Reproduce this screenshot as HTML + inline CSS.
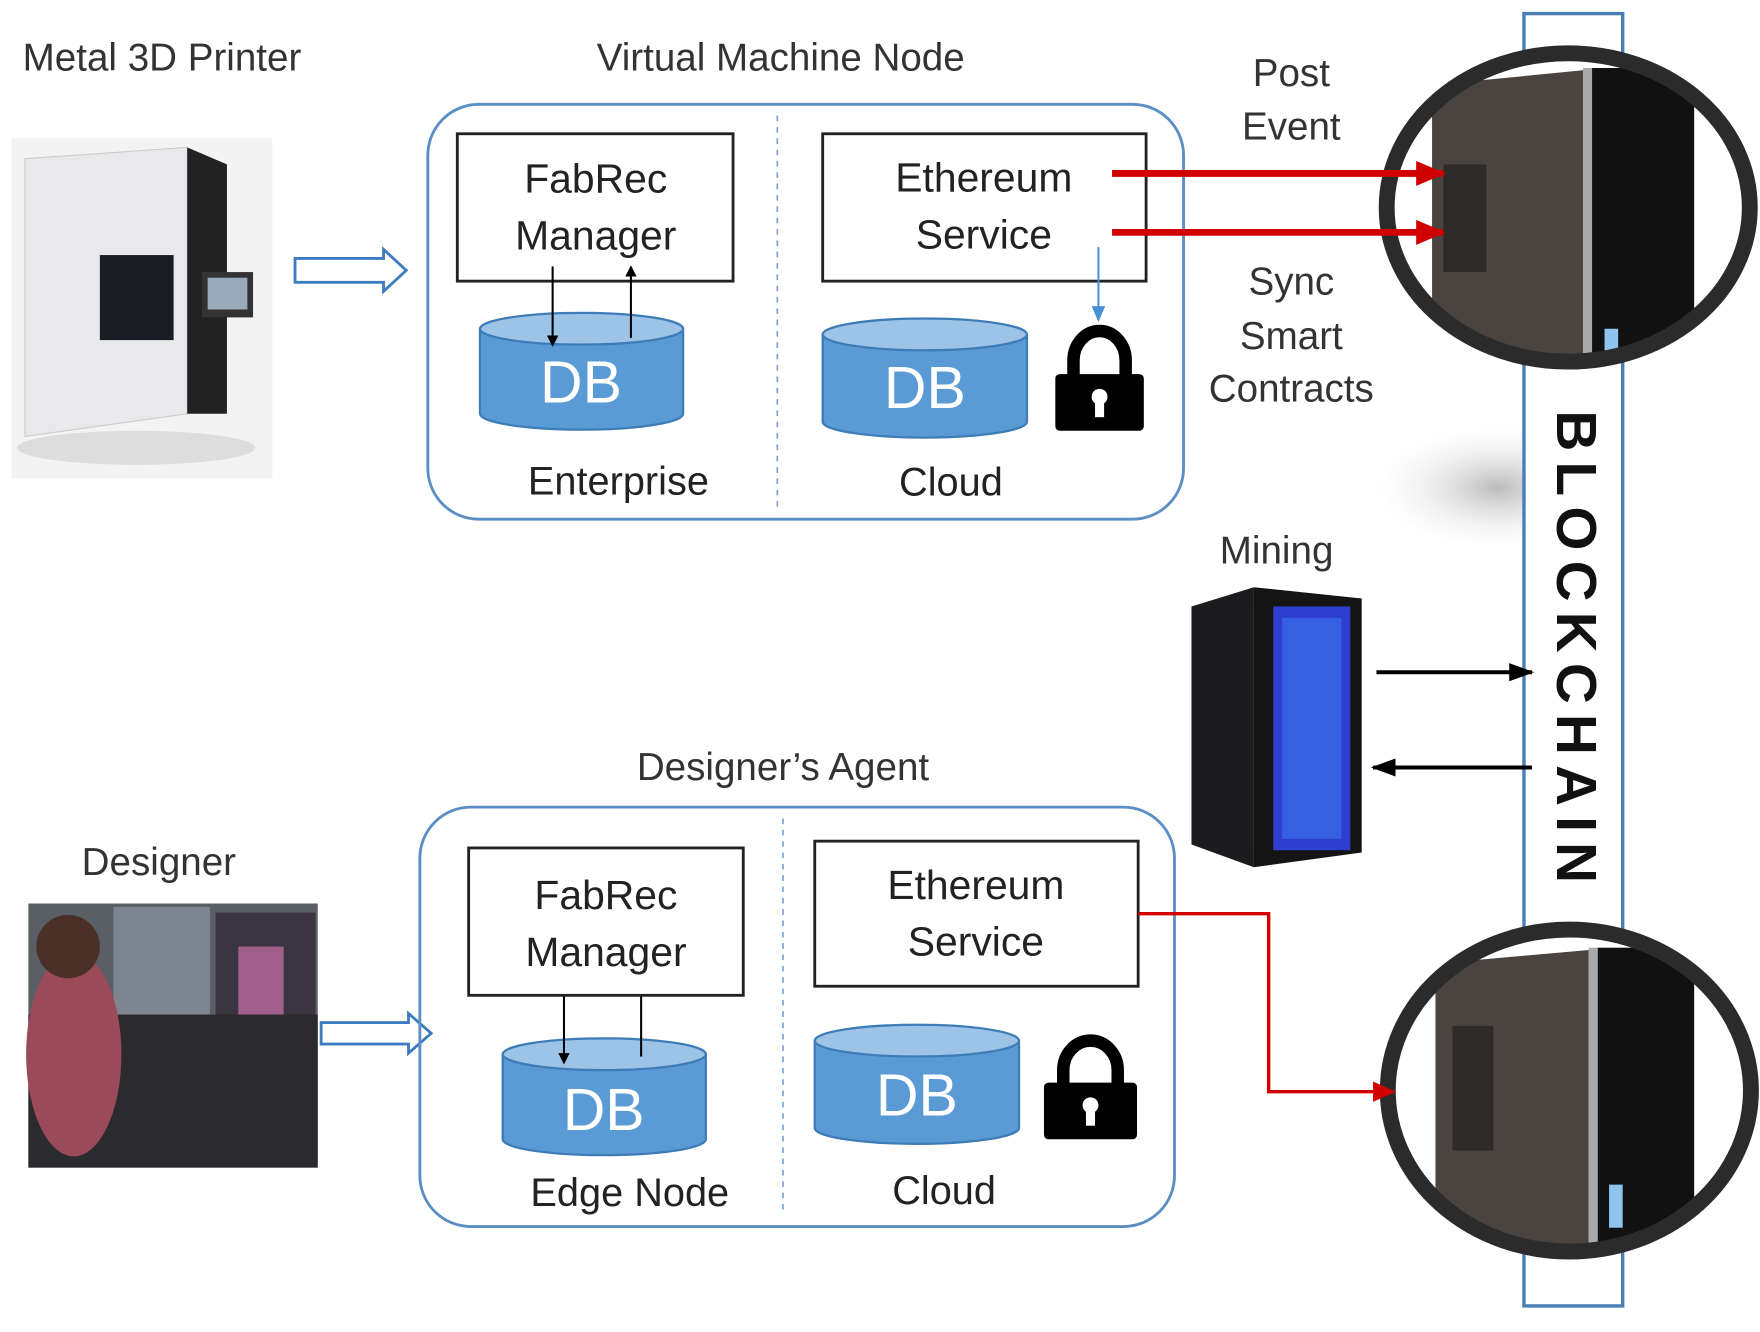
<!DOCTYPE html>
<html><head><meta charset="utf-8"><style>
html,body{margin:0;padding:0;background:#fff;}
svg{display:block;}
text{font-family:"Liberation Sans",sans-serif;}
</style></head><body>
<svg width="1760" height="1332" viewBox="0 0 1551 1175" preserveAspectRatio="none" xmlns="http://www.w3.org/2000/svg">
<defs>
<marker id="bk" markerWidth="10" markerHeight="10" refX="8" refY="5" orient="auto" markerUnits="userSpaceOnUse"><path d="M0,0 L10,5 L0,10 z" fill="#000"/></marker>
<marker id="bkb" markerWidth="22" markerHeight="16" refX="20" refY="8" orient="auto" markerUnits="userSpaceOnUse"><path d="M0,0 L22,8 L0,16 z" fill="#000"/></marker>
<marker id="rd" markerWidth="26" markerHeight="22" refX="24" refY="11" orient="auto" markerUnits="userSpaceOnUse"><path d="M0,0 L26,11 L0,22 z" fill="#d10000"/></marker>
<marker id="rds" markerWidth="20" markerHeight="18" refX="18" refY="9" orient="auto" markerUnits="userSpaceOnUse"><path d="M0,0 L20,9 L0,18 z" fill="#d10000"/></marker>
<marker id="bl" markerWidth="14" markerHeight="12" refX="12" refY="6" orient="auto" markerUnits="userSpaceOnUse"><path d="M0,0 L14,6 L0,12 z" fill="#4a90d9"/></marker>
<radialGradient id="sh" cx="0.5" cy="0.5" r="0.5"><stop offset="0" stop-color="#bbb"/><stop offset="1" stop-color="#fff" stop-opacity="0"/></radialGradient>
<clipPath id="c1"><ellipse cx="1382" cy="183" rx="160" ry="136"/></clipPath>
<clipPath id="c2"><ellipse cx="1383" cy="962" rx="160" ry="142"/></clipPath>
</defs>

<ellipse cx="1320" cy="430" rx="120" ry="60" fill="url(#sh)"/>

<text x="20" y="62" font-size="34" fill="#333">Metal 3D Printer</text>
<text x="688" y="62" font-size="34" fill="#333" text-anchor="middle">Virtual Machine Node</text>
<text x="690" y="688" font-size="34" fill="#333" text-anchor="middle">Designer’s Agent</text>
<text x="140" y="772" font-size="34" fill="#333" text-anchor="middle">Designer</text>
<text x="1125" y="497" font-size="34" fill="#333" text-anchor="middle">Mining</text>

<rect x="10" y="122" width="230" height="300" fill="#f3f3f3"/>
<polygon points="22,140 165,130 165,365 22,385" fill="#e9e9ec" stroke="#ccc"/>
<polygon points="165,130 200,145 200,365 165,365" fill="#222"/>
<rect x="88" y="225" width="65" height="75" fill="#1a1d24"/>
<rect x="178" y="240" width="45" height="40" fill="#333"/>
<rect x="183" y="245" width="35" height="28" fill="#9ab"/>
<ellipse cx="120" cy="395" rx="105" ry="15" fill="#ddd"/>

<rect x="25" y="797" width="255" height="233" fill="#5a5f66"/>
<rect x="100" y="800" width="85" height="95" fill="#7d8590"/>
<rect x="190" y="805" width="88" height="110" fill="#3a3540"/>
<rect x="210" y="835" width="40" height="60" fill="#a0608a"/>
<rect x="25" y="895" width="255" height="135" fill="#2b2b2e"/>
<ellipse cx="65" cy="930" rx="42" ry="90" fill="#9b4a5a"/>
<circle cx="60" cy="835" r="28" fill="#4a3028"/>

<path d="M260,228 L338,228 L338,220 L358,238.5 L338,257 L338,249 L260,249 z" fill="#fff" stroke="#3d7cc0" stroke-width="2.5"/>
<path d="M283,902 L360,902 L360,894 L380,911.5 L360,929 L360,921 L283,921 z" fill="#fff" stroke="#3d7cc0" stroke-width="2.5"/>

<rect x="377" y="92" width="666" height="366" rx="45" fill="none" stroke="#5a8ec4" stroke-width="2.5"/>
<line x1="685" y1="102" x2="685" y2="448" stroke="#7aa6d6" stroke-width="1.5" stroke-dasharray="5,5"/>
<rect x="403" y="118" width="243" height="130" fill="#fff" stroke="#222" stroke-width="2.5"/>
<text x="525" y="170" font-size="36" fill="#222" text-anchor="middle">FabRec</text>
<text x="525" y="220" font-size="36" fill="#222" text-anchor="middle">Manager</text>
<rect x="725" y="118" width="285" height="130" fill="#fff" stroke="#222" stroke-width="2.5"/>
<text x="867" y="169" font-size="36" fill="#222" text-anchor="middle">Ethereum</text>
<text x="867" y="219" font-size="36" fill="#222" text-anchor="middle">Service</text>

<g>
<path d="M423,290 L423,365 A89.5,14 0 0 0 602,365 L602,290" fill="#5b9bd5" stroke="#3e7cb8" stroke-width="2"/>
<ellipse cx="512.5" cy="290" rx="89.5" ry="14" fill="#9dc3e6" stroke="#3e7cb8" stroke-width="2"/>
<text x="512" y="355" font-size="52" fill="#fff" text-anchor="middle">DB</text>
</g>
<g>
<path d="M725,295 L725,372 A90,14 0 0 0 905,372 L905,295" fill="#5b9bd5" stroke="#3e7cb8" stroke-width="2"/>
<ellipse cx="815" cy="295" rx="90" ry="14" fill="#9dc3e6" stroke="#3e7cb8" stroke-width="2"/>
<text x="815" y="360" font-size="52" fill="#fff" text-anchor="middle">DB</text>
</g>
<g>
<path d="M443,930 L443,1005 A89.5,14 0 0 0 622,1005 L622,930" fill="#5b9bd5" stroke="#3e7cb8" stroke-width="2"/>
<ellipse cx="532.5" cy="930" rx="89.5" ry="14" fill="#9dc3e6" stroke="#3e7cb8" stroke-width="2"/>
<text x="532" y="997" font-size="52" fill="#fff" text-anchor="middle">DB</text>
</g>
<g>
<path d="M718,918 L718,995 A90,14 0 0 0 898,995 L898,918" fill="#5b9bd5" stroke="#3e7cb8" stroke-width="2"/>
<ellipse cx="808" cy="918" rx="90" ry="14" fill="#9dc3e6" stroke="#3e7cb8" stroke-width="2"/>
<text x="808" y="984" font-size="52" fill="#fff" text-anchor="middle">DB</text>
</g>

<line x1="487" y1="235" x2="487" y2="304" stroke="#000" stroke-width="1.8" marker-end="url(#bk)"/>
<line x1="556" y1="298" x2="556" y2="236" stroke="#000" stroke-width="1.8" marker-end="url(#bk)"/>
<line x1="497" y1="878" x2="497" y2="937" stroke="#000" stroke-width="1.8" marker-end="url(#bk)"/>
<line x1="565" y1="932" x2="565" y2="868" stroke="#000" stroke-width="1.8" marker-end="url(#bk)"/>
<line x1="968" y1="218" x2="968" y2="282" stroke="#4a90d9" stroke-width="1.8" marker-end="url(#bl)"/>

<text x="545" y="436" font-size="35" fill="#222" text-anchor="middle">Enterprise</text>
<text x="838" y="437" font-size="35" fill="#222" text-anchor="middle">Cloud</text>

<g>
<path d="M946,335 L946,318 A23,26 0 0 1 992,318 L992,335" fill="none" stroke="#000" stroke-width="11"/>
<rect x="930" y="330" width="78" height="50" rx="4" fill="#000"/>
<circle cx="969" cy="350" r="7" fill="#fff"/><rect x="965" y="350" width="8" height="18" fill="#fff"/>
</g>
<g>
<path d="M937,960 L937,944 A24,26 0 0 1 985,944 L985,960" fill="none" stroke="#000" stroke-width="11"/>
<rect x="920" y="955" width="82" height="50" rx="4" fill="#000"/>
<circle cx="961" cy="975" r="7" fill="#fff"/><rect x="957" y="975" width="8" height="18" fill="#fff"/>
</g>

<rect x="370" y="712" width="665" height="370" rx="45" fill="none" stroke="#5a8ec4" stroke-width="2.5"/>
<line x1="690" y1="722" x2="690" y2="1072" stroke="#7aa6d6" stroke-width="1.5" stroke-dasharray="5,5"/>
<rect x="413" y="748" width="242" height="130" fill="#fff" stroke="#222" stroke-width="2.5"/>
<text x="534" y="802" font-size="36" fill="#222" text-anchor="middle">FabRec</text>
<text x="534" y="852" font-size="36" fill="#222" text-anchor="middle">Manager</text>
<rect x="718" y="742" width="285" height="128" fill="#fff" stroke="#222" stroke-width="2.5"/>
<text x="860" y="793" font-size="36" fill="#222" text-anchor="middle">Ethereum</text>
<text x="860" y="843" font-size="36" fill="#222" text-anchor="middle">Service</text>
<text x="555" y="1064" font-size="35" fill="#222" text-anchor="middle">Edge Node</text>
<text x="832" y="1062" font-size="35" fill="#222" text-anchor="middle">Cloud</text>

<text x="1138" y="76" font-size="34" fill="#333" text-anchor="middle">Post</text>
<text x="1138" y="123" font-size="34" fill="#333" text-anchor="middle">Event</text>
<text x="1138" y="260" font-size="34" fill="#333" text-anchor="middle">Sync</text>
<text x="1138" y="308" font-size="34" fill="#333" text-anchor="middle">Smart</text>
<text x="1138" y="354" font-size="34" fill="#333" text-anchor="middle">Contracts</text>

<rect x="1343" y="12" width="87" height="1140" fill="#fff" stroke="#4a7fb5" stroke-width="3"/>
<text transform="translate(1372,575) rotate(90)" font-size="50" font-weight="bold" fill="#111" text-anchor="middle" letter-spacing="9">BLOCKCHAIN</text>

<g>
<ellipse cx="1382" cy="183" rx="160" ry="136" fill="#fff"/>
<g clip-path="url(#c1)">
<polygon points="1262,75 1395,62 1395,320 1262,300" fill="#4a4440"/>
<rect x="1272" y="145" width="38" height="95" fill="#2d2a28"/>
<rect x="1395" y="60" width="8" height="262" fill="#aaa"/>
<rect x="1403" y="60" width="90" height="262" fill="#111"/>
<rect x="1414" y="290" width="12" height="22" fill="#8fc4ee"/>
</g>
<ellipse cx="1382" cy="183" rx="160" ry="136" fill="none" stroke="#2b2b2b" stroke-width="14"/>
</g>
<g>
<ellipse cx="1383" cy="962" rx="160" ry="142" fill="#fff"/>
<g clip-path="url(#c2)">
<polygon points="1265,850 1400,838 1400,1106 1265,1090" fill="#4a4440"/>
<rect x="1280" y="905" width="36" height="110" fill="#2d2a28"/>
<rect x="1400" y="836" width="8" height="270" fill="#aaa"/>
<rect x="1408" y="836" width="85" height="270" fill="#111"/>
<rect x="1418" y="1045" width="12" height="38" fill="#8fc4ee"/>
</g>
<ellipse cx="1383" cy="962" rx="160" ry="142" fill="none" stroke="#2b2b2b" stroke-width="14"/>
</g>

<polygon points="1050,535 1105,518 1105,765 1050,745" fill="#1c1c1f"/>
<polygon points="1105,518 1200,528 1200,752 1105,765" fill="#141414"/>
<rect x="1122" y="535" width="68" height="215" fill="#2e3fd0"/>
<rect x="1130" y="545" width="52" height="195" fill="#3a6fe8" opacity="0.7"/>

<line x1="980" y1="153" x2="1272" y2="153" stroke="#d10000" stroke-width="6" marker-end="url(#rd)"/>
<line x1="980" y1="205" x2="1272" y2="205" stroke="#d10000" stroke-width="6" marker-end="url(#rd)"/>
<polyline points="1003,806 1118,806 1118,963 1228,963" fill="none" stroke="#d10000" stroke-width="3" marker-end="url(#rds)"/>

<line x1="1213" y1="593" x2="1350" y2="593" stroke="#000" stroke-width="3.5" marker-end="url(#bkb)"/>
<line x1="1350" y1="677" x2="1210" y2="677" stroke="#000" stroke-width="3.5" marker-end="url(#bkb)"/>
</svg>
</body></html>
